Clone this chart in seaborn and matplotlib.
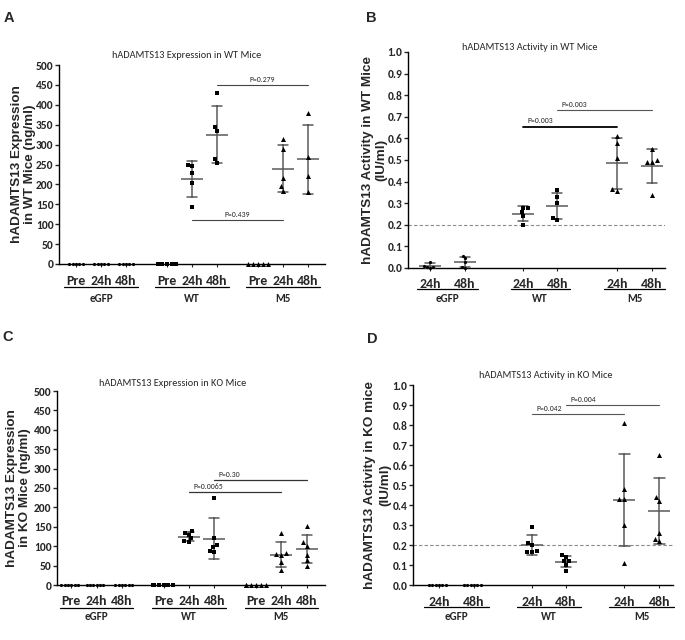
import numpy as np
import pandas as pd
import matplotlib
matplotlib.use("Agg")
import matplotlib.pyplot as plt
import matplotlib.transforms as mtransforms
import seaborn as sns

# ---------------- data ----------------
groups = ["eGFP", "WT", "M5"]
exp_times = ["Pre", "24h", "48h"]
act_times = ["24h", "48h"]

# Panel A: hADAMTS13 expression in WT mice (ng/ml)
A_egfp = [[0] * 5, [0] * 5, [0] * 5]
A_wt = [[0] * 5, [250, 245, 228, 203, 142], [430, 345, 335, 263, 253]]
A_m5 = [[0] * 5, [315, 290, 215, 195, 183], [380, 270, 222, 180]]
A_sig_y = [110, 450]
A_sig_text = ["P=0.439", "P=0.279"]

# Panel B: hADAMTS13 activity in WT mice (IU/ml)
B_egfp = [[0.03, 0.01, 0.005, 0.005, 0.0], [0.055, 0.045, 0.03, 0.005, 0.0]]
B_wt = [[0.28, 0.28, 0.26, 0.24, 0.20], [0.36, 0.33, 0.30, 0.23, 0.22]]
B_m5 = [[0.61, 0.58, 0.51, 0.365, 0.355], [0.55, 0.50, 0.49, 0.49, 0.34]]
B_sig_y = [0.655, 0.73]
B_sig_text = ["P=0.003", "P=0.003"]

# Panel C: hADAMTS13 expression in KO mice (ng/ml)
C_egfp = [[0] * 6, [0] * 6, [0] * 6]
C_wt = [[0] * 6, [138, 135, 130, 120, 113, 110], [224, 120, 103, 97, 88, 86]]
C_m5 = [[0] * 6, [133, 82, 80, 78, 58, 38], [153, 110, 100, 78, 65, 50]]
C_sig_y = [240, 271]
C_sig_text = ["P=0.0065", "P=0.30"]

# Panel D: hADAMTS13 activity in KO mice (IU/ml)
D_egfp = [[0] * 6, [0] * 6]
D_wt = [[0.29, 0.21, 0.20, 0.17, 0.165, 0.165], [0.15, 0.14, 0.12, 0.12, 0.10, 0.07]]
D_m5 = [[0.81, 0.48, 0.43, 0.43, 0.30, 0.11], [0.65, 0.44, 0.42, 0.26, 0.23, 0.22]]
D_sig_y = [0.857, 0.90]
D_sig_text = ["P=0.042", "P=0.004"]

# ---------------- style ----------------
sns.set_style("ticks")
plt.rcParams["font.family"] = ["Carlito", "Lato", "DejaVu Sans"]
LABEL_FONT = ["Liberation Sans", "DejaVu Sans"]

W, H = 685, 640
fig = plt.figure(figsize=(W / 100, H / 100), dpi=100)


def add_axes(l, t, r, b):
    return fig.add_axes([l / W, 1 - b / H, (r - l) / W, (b - t) / H])


markers = {"eGFP": "o", "WT": "s", "M5": "^"}
msize = {"eGFP": 2.3, "WT": 3.2, "M5": 3.6}
ERR_COLOR = "#5a5a5a"


def build_df(vals, times, pos):
    rows = []
    k = 0
    for g in groups:
        for ti, t in enumerate(times):
            for v in vals[g][ti]:
                rows.append((g, t, pos[k], v))
            k += 1
    return pd.DataFrame(rows, columns=["group", "time", "x", "value"])


def draw_panel(ax, vals, times, pos, xlim, ylim, yticks, yfmt, title, title_xy,
               ylabel, ylabel_x, ylab_ls, sig_y, sig_text, sig_center,
               sig_styles, dashed, cap, under_span, offs):
    df = build_df(vals, times, pos)
    for g in groups:
        sub = df[df.group == g]
        sns.swarmplot(data=sub, x="x", y="value", native_scale=True,
                      marker=markers[g], size=msize[g], color="black",
                      linewidth=0, ax=ax, zorder=5, warn_thresh=1.0)
        nz = sub[sub.groupby("x")["value"].transform("max") > 0]
        if len(nz):
            sns.pointplot(data=nz, x="x", y="value", native_scale=True,
                          errorbar="sd", estimator="mean", marker="_",
                          markersize=16, markeredgewidth=1.1,
                          linestyle="none", color=ERR_COLOR, capsize=cap,
                          err_kws={"linewidth": 1.1}, ax=ax, zorder=4)
    for c in ax.collections:
        c.set_clip_on(False)
    for l in ax.lines:
        l.set_clip_on(False)

    ax.set_xlim(*xlim)
    ax.set_ylim(*ylim)
    ax.set_yticks(yticks)
    ax.set_yticklabels([yfmt.format(v) for v in yticks], fontsize=8.3,
                       fontweight="bold")
    ax.set_xticks(pos)
    ax.set_xticklabels((times * 3)[:len(pos)], fontsize=10, fontweight="bold")
    ax.set_xlabel("")
    ax.set_ylabel("")
    for s in ["top", "right"]:
        ax.spines[s].set_visible(False)
    for s in ["left", "bottom"]:
        ax.spines[s].set_linewidth(1.0)
        ax.spines[s].set_color("black")
        ax.spines[s].set_zorder(3)
    ax.tick_params(axis="y", length=3, width=1, pad=1)
    ax.tick_params(axis="x", length=2, width=0.8, pad=offs[0] - 7)

    if dashed is not None:
        ax.axhline(dashed, color="#8a8a8a", lw=0.8, ls=(0, (3, 2)), zorder=1)

    # group underline + labels
    n = len(times)
    tr_line = mtransforms.offset_copy(ax.get_xaxis_transform(), fig=fig,
                                      x=0, y=-offs[1], units="dots")
    tr_lab = mtransforms.offset_copy(ax.get_xaxis_transform(), fig=fig,
                                     x=0, y=-offs[2], units="dots")
    for gi, g in enumerate(groups):
        p0, p1 = pos[gi * n], pos[gi * n + n - 1]
        x0, x1 = p0 - under_span, p1 + under_span
        ax.plot([x0, x1], [0, 0], color="black", lw=0.9, transform=tr_line,
                clip_on=False)
        ax.text((x0 + x1) / 2, 0, g, transform=tr_lab, ha="center",
                va="center", fontsize=8, fontweight="bold")

    # significance bars: WT vs M5 at matching timepoints
    for k in range(2):
        t_idx = n - 2 + k
        xa, xb = pos[n + t_idx], pos[2 * n + t_idx]
        color, lw = sig_styles[k]
        ax.plot([xa, xb], [sig_y[k], sig_y[k]], color=color, lw=lw,
                clip_on=False, zorder=2)
        if sig_center:
            ax.annotate(sig_text[k], ((xa + xb) / 2, sig_y[k]),
                        xytext=(0, 1.5), textcoords="offset points",
                        ha="center", va="bottom", fontsize=5.6)
        else:
            ax.annotate(sig_text[k], (xa, sig_y[k]),
                        xytext=(3, 1.5), textcoords="offset points",
                        ha="left", va="bottom", fontsize=5.6)

    ax.text(title_xy[0], title_xy[1], title, transform=ax.transAxes,
            ha="center", va="center", fontsize=7.4)
    ax.text(ylabel_x, 0.5, ylabel, transform=ax.transAxes, rotation=90,
            ha="center", va="center", fontsize=9.7, fontweight="bold",
            family=LABEL_FONT, linespacing=ylab_ls)


posAC = [0, 1, 2, 3.64, 4.64, 5.64, 7.28, 8.28, 9.28]
posB = [0, 1, 2.66, 3.63, 5.34, 6.34]
posD = [0, 1, 2.66, 3.63, 5.3, 6.3]
exp_ticks = list(range(0, 501, 50))
act_ticks = [round(0.1 * i, 1) for i in range(11)]

axA = add_axes(59, 65, 325, 264)
draw_panel(axA, {"eGFP": A_egfp, "WT": A_wt, "M5": A_m5}, exp_times, posAC,
           (-0.68, 9.96), (0, 500), exp_ticks, "{:d}",
           "hADAMTS13 Expression in WT Mice", (0.48, 1.05),
           "hADAMTS13 Expression\nin WT Mice (ng/ml)", -0.135, 1.12,
           A_sig_y, A_sig_text, True, [("#444444", 0.8), ("#444444", 0.8)],
           None, 0.4, 0.48, (13, 23, 34))

axB = add_axes(408, 52, 665, 268)
draw_panel(axB, {"eGFP": B_egfp, "WT": B_wt, "M5": B_m5}, act_times, posB,
           (-0.63, 6.71), (0, 1.0), act_ticks, "{:.1f}",
           "hADAMTS13 Activity in WT Mice", (0.475, 1.02),
           "hADAMTS13 Activity in WT Mice\n(IU/ml)", -0.128, 1.15,
           B_sig_y, B_sig_text, False, [("black", 1.3), ("#555555", 0.8)],
           0.2, 0.3, 0.36, (12, 21, 30))

axC = add_axes(57, 391, 325, 585)
draw_panel(axC, {"eGFP": C_egfp, "WT": C_wt, "M5": C_m5}, exp_times, posAC,
           (-0.56, 10.0), (0, 500), exp_ticks, "{:d}",
           "hADAMTS13 Expression in KO Mice", (0.43, 1.04),
           "hADAMTS13 Expression\nin KO Mice (ng/ml)", -0.142, 1.12,
           C_sig_y, C_sig_text, False, [("#333333", 0.9), ("#333333", 0.9)],
           None, 0.4, 0.45, (12, 23, 31))

axD = add_axes(413, 385, 673, 585)
draw_panel(axD, {"eGFP": D_egfp, "WT": D_wt, "M5": D_m5}, act_times, posD,
           (-0.74, 6.69), (0, 1.0), act_ticks, "{:.1f}",
           "hADAMTS13 Activity in KO Mice", (0.51, 1.045),
           "hADAMTS13 Activity in KO mice\n(IU/ml)", -0.135, 1.4,
           D_sig_y, D_sig_text, False, [("#555555", 0.8), ("#555555", 0.8)],
           0.2, 0.3, 0.43, (13, 22, 32))

for lab, x, y in [("A", 9, 18), ("B", 371, 18), ("C", 8, 337), ("D", 372, 339)]:
    fig.text(x / W, 1 - y / H, lab, ha="center", va="center", fontsize=10.5,
             fontweight="bold", family=LABEL_FONT)

fig.savefig("out.png", dpi=100)
